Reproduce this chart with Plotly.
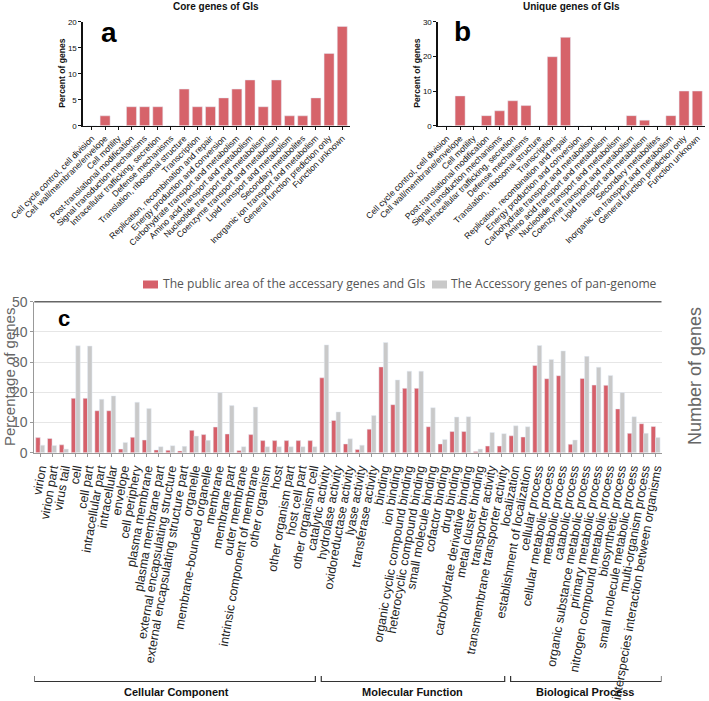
import plotly.graph_objects as go

W, H = 709, 701

cog_categories = [
    "Cell cycle control, cell division", "Cell wall/membrane/envelope", "Cell motility",
    "Post-translational modification", "Signal transduction mechanisms",
    "Intracellular trafficking, secretion", "Defense mechanisms",
    "Translation, ribosomal structure", "Transcription",
    "Replication, recombination and repair", "Energy production and conversion",
    "Carbohydrate transport and metabolism", "Amino acid transport and metabolism",
    "Nucleotide transport and metabolism", "Coenzyme transport and metabolism",
    "Lipid transport and metabolism", "Secondary metabolites",
    "Inorganic ion transport and metabolism", "General function prediction only",
    "Function unknown",
]
core_percent = [0, 1.9, 0, 3.65, 3.65, 3.65, 0, 7.05, 3.65, 3.65, 5.35, 7.05, 8.8,
                3.65, 8.8, 1.9, 1.9, 5.35, 13.9, 19.1]
unique_percent = [0, 8.6, 0, 2.9, 4.3, 7.2, 5.8, 0, 19.9, 25.5, 0, 0, 0, 0, 2.9, 1.6,
                  0, 2.9, 10.0, 10.0]

go_terms = [
    "virion", "virion part", "virus tail", "cell", "cell part", "intracellular part",
    "intracellular", "envelope", "cell periphery", "plasma membrane",
    "plasma membrane part", "external encapsulating structure",
    "external encapsulating structure part", "organelle", "membrane-bounded organelle",
    "membrane", "membrane part", "outer membrane", "intrinsic component of membrane",
    "other organism", "host", "other organism part", "host cell part",
    "other organism cell",
    "catalytic activity", "hydrolase activity", "oxidoreductase activity",
    "lyase activity", "transferase activity", "binding", "ion binding",
    "organic cyclic compound binding", "heterocyclic compound binding",
    "small molecule binding", "cofactor binding", "drug binding",
    "carbohydrate derivative binding", "metal cluster binding", "transporter activity",
    "transmembrane transporter activity",
    "localization", "establishment of localization", "cellular process",
    "cellular metabolic process", "metabolic process", "catabolic process",
    "organic substance metabolic process", "primary metabolic process",
    "nitrogen compound metabolic process", "biosynthetic process",
    "small molecule metabolic process", "multi-organism process",
    "interspecies interaction between organisms",
]
public_area_pct = [5.0, 4.7, 2.6, 18.0, 18.0, 13.9, 13.9, 1.2, 5.1, 4.2,
                   0.9, 0.8, 0.6, 7.4, 6.0, 8.5, 6.2, 0.7, 6.0, 4.0,
                   4.0, 4.0, 4.0, 4.0, 24.8, 10.7, 2.9, 1.1, 7.8, 28.4,
                   15.9, 21.3, 21.3, 8.6, 2.9, 7.0, 7.0, 0.4, 2.2, 2.2,
                   5.6, 5.2, 28.9, 24.5, 25.5, 2.8, 24.6, 22.4, 22.3, 14.5,
                   6.4, 9.6, 8.7]
accessory_pct = [2.5, 2.4, 1.2, 35.4, 35.3, 17.7, 18.8, 3.4, 16.7, 14.6,
                 2.0, 2.3, 2.1, 5.5, 4.1, 19.9, 15.6, 2.0, 15.1, 2.0,
                 2.0, 2.0, 2.0, 2.0, 35.7, 13.5, 4.6, 2.5, 12.3, 36.5,
                 24.1, 27.0, 27.0, 14.9, 4.4, 11.8, 11.9, 1.2, 6.7, 6.3,
                 8.9, 8.6, 35.5, 30.9, 33.7, 4.2, 31.9, 28.3, 25.6, 19.9,
                 11.9, 6.4, 5.0]
legend_names = ["The public area of the accessary genes and GIs",
                "The Accessory genes of pan-genome"]
groups = [("Cellular Component", -0.5, 23.5), ("Molecular Function", 23.5, 39.5),
          ("Biological Process", 39.5, 52.5)]
right_tickvals = [0, 10, 20, 30, 40, 50]
right_ticktext = ["0", "", "", "300<br>724", "", "501<br>1207"]

RED_AB = "#D6636A"
RED_C = "#D6606A"
GRAY_C = "#C9C9C9"


def px(x):
    return x / W


def py(y):
    return 1 - y / H


fig = go.Figure()
fig.add_trace(go.Bar(x=cog_categories, y=core_percent, marker_color=RED_AB,
                     xaxis="x", yaxis="y", showlegend=False))
fig.add_trace(go.Bar(x=cog_categories, y=unique_percent, marker_color=RED_AB,
                     xaxis="x2", yaxis="y2", showlegend=False))
fig.add_trace(go.Bar(x=go_terms, y=public_area_pct, marker_color=RED_C,
                     xaxis="x3", yaxis="y3", name=legend_names[0], showlegend=False,
                     offsetgroup="a"))
fig.add_trace(go.Bar(x=go_terms, y=accessory_pct, marker_color=GRAY_C,
                     xaxis="x3", yaxis="y3", name=legend_names[1], showlegend=False,
                     offsetgroup="b"))

bold_x = dict(family="Liberation Sans", size=8.6, color="#111")
bold_y = dict(family="Liberation Sans", size=8, color="#111")
ab_x = dict(showline=True, linecolor="#111", linewidth=1.3, ticks="outside",
            ticklen=3, tickcolor="#111", tickangle=-45, tickfont=bold_x,
            range=[-0.7, 19.55], showgrid=False, tickmode="array",
            tickvals=cog_categories, automargin=False)
ab_y = dict(showline=True, linecolor="#111", linewidth=1.3, ticks="outside",
            ticklen=3, tickcolor="#111", tickfont=bold_y, showgrid=False,
            zeroline=False, domain=[py(125.7), py(21.7)], automargin=False)

layout = dict(
    width=W, height=H, margin=dict(l=0, r=0, t=0, b=0, pad=0, autoexpand=False),
    paper_bgcolor="white", plot_bgcolor="white",
    barmode="group", bargap=0.24, bargroupgap=0,
    showlegend=False,
    xaxis=dict(ab_x, domain=[px(82.7), px(349.5)], anchor="y"),
    yaxis=dict(ab_y, range=[0, 20], tickvals=[0, 5, 10, 15, 20], anchor="x"),
    xaxis2=dict(ab_x, domain=[px(437.7), px(704.5)], anchor="y2"),
    yaxis2=dict(ab_y, range=[0, 30], tickvals=[0, 10, 20, 30], anchor="x2"),
    xaxis3=dict(domain=[px(34.3), px(661.5)], anchor="y3", range=[-0.5, 52.5],
                showline=True, linecolor="#999", linewidth=1, ticks="outside",
                ticklen=3, tickcolor="#999", tickangle=-80, tickmode="array",
                tickvals=go_terms, automargin=False,
                tickfont=dict(family="Liberation Sans", size=12.4, color="#222"),
                showgrid=False),
    yaxis3=dict(domain=[py(452.7), py(301.7)], anchor="x3", range=[0, 50],
                tickvals=[0, 10, 20, 30, 40, 50], showline=True, linecolor="#999",
                ticks="outside", ticklen=3, tickcolor="#999", automargin=False,
                tickfont=dict(family="Liberation Sans", size=14, color="#666"),
                showgrid=True, gridcolor="#E6E6E6", gridwidth=1, zeroline=False),
    yaxis4=dict(overlaying="y3", side="right", anchor="x3", range=[0, 50],
                tickmode="array", tickvals=right_tickvals, ticktext=right_ticktext,
                showline=True, linecolor="#999", ticks="outside", ticklen=3,
                tickcolor="#999", showgrid=False, zeroline=False, automargin=False,
                tickfont=dict(family="Liberation Sans", size=13, color="#666")),
)
fig.update_layout(**layout)


def note(text, x, y, size, color="#111", family="Liberation Sans", angle=0,
         xanchor="center", xref="paper"):
    return dict(text=text, x=x, y=y, xref=xref, yref="paper", showarrow=False,
                xanchor=xanchor, yanchor="middle", textangle=angle,
                font=dict(family=family, size=size, color=color))


ann = []
ann.append(note("<b>Core genes of GIs</b>", px(216), py(6.5), 10))
ann.append(note("<b>Unique genes of GIs</b>", px(571), py(6.5), 10))
for xc in (62, 417):
    ann.append(note("<b>Percent of genes</b>", px(xc), py(73.7), 8.6, angle=-90))
ann.append(note("<b>a</b>", px(109), py(33), 28, color="#000"))
ann.append(note("<b>b</b>", px(462), py(31), 28, color="#000"))
ann.append(note("<b>c</b>", px(64), py(318), 22, color="#000"))
ann.append(note("Percentage of genes", px(9), py(377), 15, color="#666", angle=-90))
ann.append(note("Number of genes", px(695), py(376), 18, color="#666", angle=-90))
shapes = []
legend_items = [(143, RED_C, 161, legend_names[0]), (432, GRAY_C, 449, legend_names[1])]
for x0, col, tx, name in legend_items:
    shapes.append(dict(type="rect", xref="paper", yref="paper", x0=px(x0),
                       x1=px(x0 + 15), y0=py(288.5), y1=py(280.5), fillcolor=col,
                       line=dict(width=0)))
    ann.append(note(name, px(tx), py(283.5), 12.1, color="#555", family="Open Sans",
                    xanchor="left"))
shapes.append(dict(type="line", xref="paper", yref="paper", x0=px(34.3), x1=px(661.5),
                   y0=py(301.7), y1=py(301.7), line=dict(color="#666", width=1.5)))
for name, a, b in groups:
    l, r = a + 0.25, b - 0.25
    if a < 0:
        l = a
    if b > 52:
        r = b
    yb, yt = py(681.5), py(676)
    shapes.append(dict(type="path", xref="x3", yref="paper",
                       path="M %f,%f L %f,%f L %f,%f L %f,%f" % (l, yt, l, yb, r, yb, r, yt),
                       line=dict(color="#333", width=1.2)))
    ann.append(note("<b>%s</b>" % name, (a + b) / 2, py(692), 11, xref="x3"))

fig.update_layout(annotations=ann, shapes=shapes)
fig.write_html("out.html",
               config={"displayModeBar": False, "staticPlot": True},
               post_script="document.body.style.margin='0';"
                           "document.documentElement.style.overflow='hidden';")
